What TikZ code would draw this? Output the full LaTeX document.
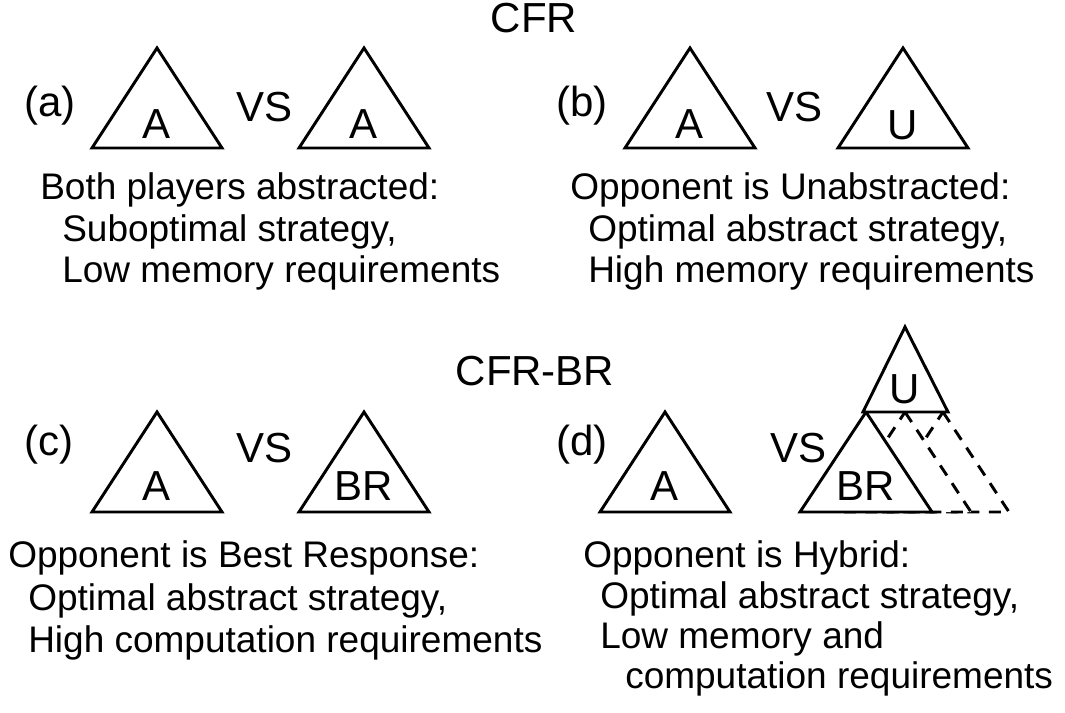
\documentclass[tikz,border=0pt]{standalone}
\usepackage{fontspec}
\setmainfont{Liberation Sans}
\begin{document}
\begin{tikzpicture}[x=0.75pt,y=-0.75pt,
  tri/.style={draw=black,line width=2.2pt,line join=miter,fill=white},
  dtri/.style={draw=black,line width=2.2pt,dash pattern=on 9pt off 7pt,fill=white},
  lbl/.style={inner sep=0pt,anchor=base,font=\fontsize{31.5}{36}\selectfont},
  body/.style={inner sep=0pt,anchor=base west,font=\fontsize{27.75}{32}\selectfont}]
\useasboundingbox (0,0) rectangle (1065,713);
% titles
\node[lbl] (cfr) at (534,33) {CFR};
\node[lbl] (cfrbr) at (535,385) {CFR-BR};
% ---- (a)
\node[lbl,anchor=base west] (la) at (24,117) {(a)};
\draw[tri] (157,48) -- (222,148) -- (92,148) -- cycle;
\node[lbl] (a1) at (157,139) {A};
\node[lbl,anchor=base west] (vsa) at (236,122) {VS};
\draw[tri] (364,48) -- (429,148) -- (299,148) -- cycle;
\node[lbl] (a2) at (364,139) {A};
\node[body] (ta1) at (40,200) {Both players abstracted:};
\node[body] (ta2) at (62,242) {Suboptimal strategy,};
\node[body] (ta3) at (62,283) {Low memory requirements};
% ---- (b)
\node[lbl,anchor=base west] (lb) at (556,117) {(b)};
\draw[tri] (690,48) -- (755,148) -- (625,148) -- cycle;
\node[lbl] (b1) at (690,139) {A};
\node[lbl,anchor=base west] (vsb) at (766,122) {VS};
\draw[tri] (903,48) -- (968,148) -- (838,148) -- cycle;
\node[lbl] (b2) at (903,140) {U};
\node[body] (tb1) at (570,200) {Opponent is Unabstracted:};
\node[body] (tb2) at (588,242) {Optimal abstract strategy,};
\node[body] (tb3) at (588,283) {High memory requirements};
% ---- (c)
\node[lbl,anchor=base west] (lc) at (24,455) {(c)};
\draw[tri] (157,412) -- (222,512) -- (92,512) -- cycle;
\node[lbl] (c1) at (157,500) {A};
\node[lbl,anchor=base west] (vsc) at (236,462) {VS};
\draw[tri] (364,412) -- (429,512) -- (299,512) -- cycle;
\node[lbl] (c2) at (364,500) {BR};
\node[body] (tc1) at (8,567) {Opponent is Best Response:};
\node[body] (tc2) at (28,610) {Optimal abstract strategy,};
\node[body] (tc3) at (28,652) {High computation requirements};
% ---- (d)
\node[lbl,anchor=base west] (ld) at (556,455) {(d)};
\draw[tri] (665,412) -- (730,512) -- (600,512) -- cycle;
\node[lbl] (d1) at (665,500) {A};
\node[lbl,anchor=base west] (vsd) at (770,462) {VS};
\draw[dtri] (943,412) -- (1009,512) -- (877,512) -- cycle;
\draw[dtri] (905,412) -- (971,512) -- (839,512) -- cycle;
\draw[tri] (866,412) -- (932,512) -- (800,512) -- cycle;
\node[lbl] (d2) at (866,500) {BR};
\draw[tri] (905,327) -- (948,412) -- (863,412) -- cycle;
\node[lbl] (d3) at (905,403) {U};
\node[body] (td1) at (583,567) {Opponent is Hybrid:};
\node[body] (td2) at (600,608) {Optimal abstract strategy,};
\node[body] (td3) at (600,648) {Low memory and};
\node[body] (td4) at (625,688) {computation requirements};
\end{tikzpicture}
\end{document}
